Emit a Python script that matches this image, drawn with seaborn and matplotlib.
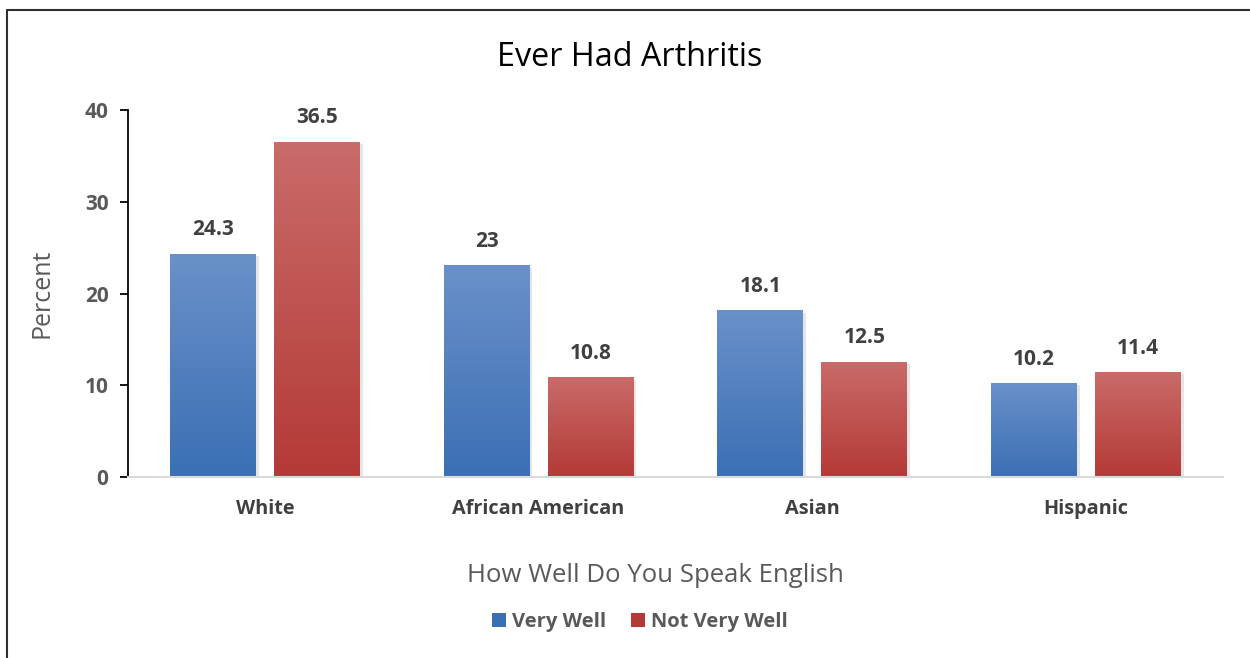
import numpy as np
import pandas as pd
import matplotlib
matplotlib.use("Agg")
import matplotlib.pyplot as plt
import seaborn as sns
from matplotlib.colors import LinearSegmentedColormap
from matplotlib.lines import Line2D
from matplotlib.patches import Patch
from matplotlib import patheffects as pe

categories = ["White", "African American", "Asian", "Hispanic"]
very_well = [24.3, 23, 18.1, 10.2]
not_very_well = [36.5, 10.8, 12.5, 11.4]
series = ["Very Well", "Not Very Well"]
y_ticks = [0, 10, 20, 30, 40]

df = pd.DataFrame({
    "group": categories * 2,
    "series": [series[0]] * 4 + [series[1]] * 4,
    "value": very_well + not_very_well,
})

sns.set_theme(style="white")
plt.rcParams["font.family"] = ["Open Sans", "DejaVu Sans"]

grad = {
    series[0]: ("#3b6fb4", "#6a91c9"),   # bottom, top
    series[1]: ("#b43a37", "#c96b69"),
}
palette = {s: grad[s][0] for s in series}

fig = plt.figure(figsize=(12.5, 6.58), dpi=100)
ax = fig.add_axes([0.1024, 0.2751, 0.8760, 0.5577])

sns.barplot(data=df, x="group", y="value", hue="series", order=categories,
            hue_order=series, palette=palette, width=0.76, dodge=True,
            legend=False, ax=ax, saturation=1)

bar_w = 0.314
for cont, s in zip(ax.containers, series):
    cmap = LinearSegmentedColormap.from_list(s, [grad[s][0], grad[s][1]])
    for p in cont.patches:
        cx = p.get_x() + p.get_width() / 2
        p.set_x(cx - bar_w / 2)
        p.set_width(bar_w)
        h = p.get_height()
        p.set_edgecolor("none")
        p.set_path_effects([pe.SimplePatchShadow(offset=(2, -1.5), shadow_rgbFace="#9a9a9a", alpha=0.25),
                            pe.Normal()])
        img = np.linspace(0, 1, 256).reshape(-1, 1)
        ax.imshow(img, cmap=cmap, origin="lower", aspect="auto",
                  extent=[cx - bar_w / 2, cx + bar_w / 2, 0, h], zorder=p.get_zorder() + 0.1)
        ax.annotate(f"{h:g}", (cx, h), xytext=(0, 10), textcoords="offset points",
                    ha="center", va="bottom", fontsize=15, fontweight="bold", color="#404040")

ax.set_xlim(-0.5, 3.5)
ax.set_ylim(0, 40)
ax.set_yticks(y_ticks)
ax.set_yticklabels([str(t) for t in y_ticks], fontsize=15, fontweight="bold", color="#595959")
ax.set_xticks(range(len(categories)))
ax.set_xticklabels(categories, fontsize=14.3, fontweight="bold", color="#404040")

for side in ["top", "right"]:
    ax.spines[side].set_visible(False)
ax.spines["left"].set_color("black")
ax.spines["left"].set_linewidth(1.3)
ax.spines["bottom"].set_color("#d9d9d9")
ax.spines["bottom"].set_linewidth(1.5)
ax.tick_params(axis="y", which="both", left=True, length=6, width=1.3, color="black", pad=8)
ax.tick_params(axis="x", bottom=False, pad=10)

ax.set_ylabel("Percent", fontsize=18, color="#595959", labelpad=22)
ax.set_xlabel("How Well Do You Speak English", fontsize=18.5, color="#595959")
ax.xaxis.label.set_va("center")
ax.xaxis.set_label_coords(0.482, -0.2698)

fig.text(0.504, 0.912, "Ever Had Arthritis", ha="center", va="center", fontsize=23.3, color="black")

handles = [Patch(facecolor=grad[s][0], edgecolor="none") for s in series]
leg = fig.legend(handles, series, loc="center", bbox_to_anchor=(0.512, 0.054), ncol=2, frameon=False,
                 handlelength=0.7, handleheight=0.7, handletextpad=0.3, columnspacing=1.2,
                 prop={"size": 14.5, "weight": "bold"})
for t in leg.get_texts():
    t.set_color("#595959")

# outer frame lines
fig.add_artist(Line2D([7 / 1250, 7 / 1250], [0, 1 - 10 / 658], color="#303030", lw=1.5))
fig.add_artist(Line2D([7 / 1250, 1], [1 - 10 / 658, 1 - 10 / 658], color="#303030", lw=1.5))

fig.savefig("out.png", dpi=100)
